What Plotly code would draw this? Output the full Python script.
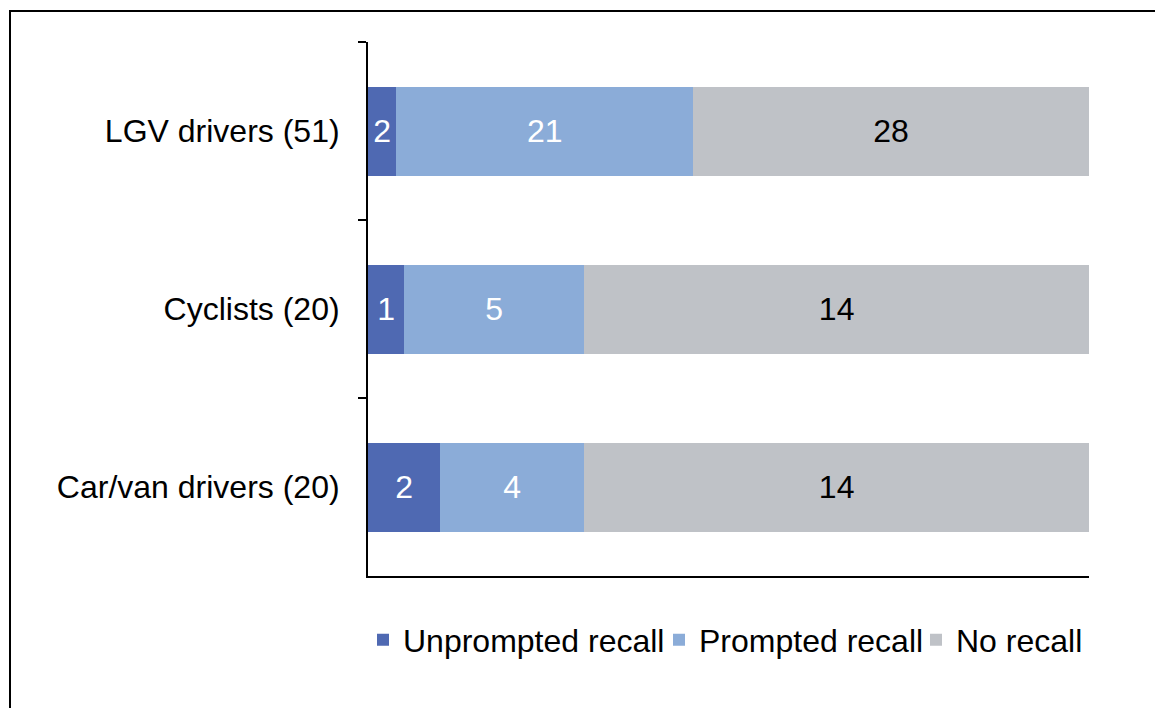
import plotly.graph_objects as go

categories = ["LGV drivers (51)", "Cyclists (20)", "Car/van drivers (20)"]
unprompted = [2, 1, 2]
prompted = [21, 5, 4]
no_recall = [28, 14, 14]

series = [
    ("Unprompted recall", unprompted, "#4F69B2", "white"),
    ("Prompted recall", prompted, "#8BACD8", "white"),
    ("No recall", no_recall, "#BFC2C7", "black"),
]

FONT = "Liberation Sans, Arial, sans-serif"
L, R, T, B = 368, 66, 42, 132
W, H = 1155, 708
PW, PH = W - L - R, H - T - B

def px_x(p):
    return (p - L) / PW

def px_y(p):
    return (H - B - p) / PH

legend_px = [363, 659, 916]
legend_names = ["legend", "legend2", "legend3"]

fig = go.Figure()
for (name, vals, color, tcolor), lg in zip(series, legend_names):
    fig.add_trace(go.Bar(
        y=categories, x=vals, name=name, orientation="h",
        marker=dict(color=color, line=dict(width=0)),
        text=[str(v) for v in vals], textposition="inside",
        insidetextanchor="middle", textangle=0, constraintext="none",
        textfont=dict(color=tcolor, size=32, family=FONT),
        hoverinfo="skip", legend=lg,
    ))

legend_common = dict(orientation="h", yanchor="middle", y=px_y(640),
                     xanchor="left", font=dict(size=32, family=FONT, color="black"),
                     bgcolor="rgba(0,0,0,0)", borderwidth=0)

fig.update_layout(
    width=W, height=H,
    barmode="stack", barnorm="percent", bargap=0.5,
    paper_bgcolor="white", plot_bgcolor="white",
    margin=dict(l=L, r=R, t=T, b=B, autoexpand=False),
    font=dict(family=FONT, size=32, color="black"),
    showlegend=True,
    legend=dict(x=px_x(legend_px[0]), **legend_common),
    legend2=dict(x=px_x(legend_px[1]), **legend_common),
    legend3=dict(x=px_x(legend_px[2]), **legend_common),
    xaxis=dict(range=[0, 100], showgrid=False, zeroline=False, showticklabels=False,
               showline=True, linecolor="black", linewidth=2, ticks=""),
    yaxis=dict(autorange="reversed", showgrid=False, zeroline=False,
               showline=True, linecolor="black", linewidth=2,
               ticks="outside", ticklen=8, tickwidth=2, tickcolor="black",
               tickson="boundaries", ticklabelstandoff=20,
               tickfont=dict(size=32, family=FONT, color="black")),
    shapes=[dict(type="rect", xref="paper", yref="paper",
                 x0=px_x(10), x1=px_x(1200), y0=px_y(760), y1=px_y(11),
                 line=dict(color="black", width=2), fillcolor="rgba(0,0,0,0)",
                 layer="below")],
)

fig.write_html("out.html")
